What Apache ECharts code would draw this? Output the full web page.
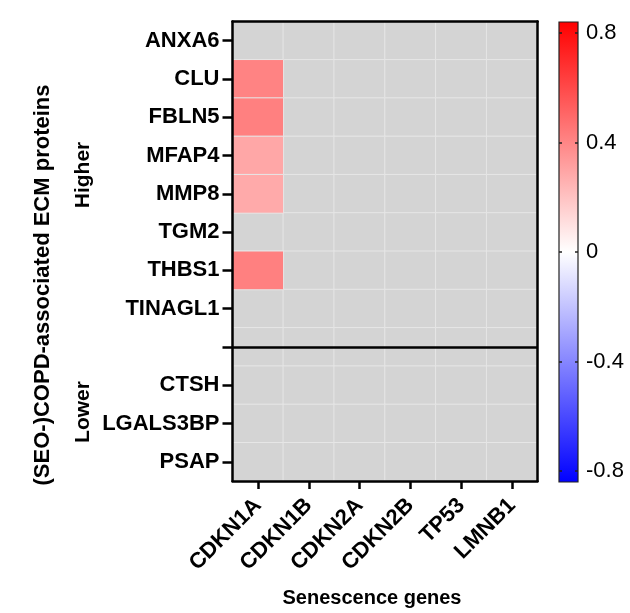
<!DOCTYPE html>
<html>
<head>
<meta charset="utf-8">
<script src="https://cdn.jsdelivr.net/npm/echarts@6/dist/echarts.min.js"></script>
<style>
  html, body { margin: 0; padding: 0; background: #fff; }
  #chart { width: 630px; height: 613px; }
</style>
</head>
<body>
<div id="chart"></div>
<script>
// senescence genes (columns)
const genes = ['CDKN1A', 'CDKN1B', 'CDKN2A', 'CDKN2B', 'TP53', 'LMNB1']
// ECM proteins (rows), empty row splits higher / lower groups
const proteins = ['ANXA6', 'CLU', 'FBLN5', 'MFAP4', 'MMP8', 'TGM2', 'THBS1', 'TINAGL1', '', 'CTSH', 'LGALS3BP', 'PSAP']
const gapRow = 8
// significant correlations only, the rest is grey
const sigProteins = ['CLU', 'FBLN5', 'MFAP4', 'MMP8', 'THBS1']
const sigGenes = ['CDKN1A', 'CDKN1A', 'CDKN1A', 'CDKN1A', 'CDKN1A']
const sigValues = [0.41, 0.42, 0.29, 0.28, 0.42]
// colour scale
const colorTicks = [-0.8, -0.4, 0, 0.4, 0.8]
const colorMin = -0.84
const colorMax = 0.84

const FONT = "'Liberation Sans', Arial, sans-serif"

// grey background cells
const greyCells = []
proteins.forEach((p, yi) => {
  genes.forEach((g, xi) => greyCells.push([xi, yi, 0]))
})

const sigCells = sigValues.map((v, i) => [
  genes.indexOf(sigGenes[i]),
  proteins.indexOf(sigProteins[i]),
  v
])

const chart = echarts.init(document.getElementById('chart'))

const frameAxis = (extra) => Object.assign({
  type: 'value',
  min: 0,
  max: 1,
  z: 5,
  axisLine: { show: true, lineStyle: { color: '#000', width: 2.5 } },
  axisTick: { show: false },
  axisLabel: { show: false },
  splitLine: { show: false }
}, extra)

chart.setOption({
  animation: false,
  grid: [
    { left: 232.5, top: 21.5, width: 305, height: 459.5 },
    { left: 559, top: 22, width: 19, height: 460 }
  ],
  xAxis: [
    {
      type: 'category',
      data: genes,
      gridIndex: 0,
      z: 5,
      axisLine: { show: true, lineStyle: { color: '#000', width: 2.5 } },
      axisTick: { show: true, alignWithLabel: true, interval: 0, length: 8, lineStyle: { color: '#000', width: 2.5 } },
      axisLabel: { interval: 0, rotate: 45, margin: 21, fontFamily: FONT, fontWeight: 'bold', fontSize: 22, color: '#000' },
      splitLine: { show: false }
    },
    frameAxis({ gridIndex: 0, position: 'top' }),
    { type: 'value', gridIndex: 1, min: 0, max: 1, show: false }
  ],
  yAxis: [
    {
      type: 'category',
      data: proteins,
      inverse: true,
      gridIndex: 0,
      z: 5,
      axisLine: { show: true, lineStyle: { color: '#000', width: 2.5 } },
      axisTick: { show: true, alignWithLabel: true, interval: 0, length: 10, lineStyle: { color: '#000', width: 2.5 } },
      axisLabel: { interval: 0, margin: 13, fontFamily: FONT, fontWeight: 'bold', fontSize: 22, color: '#000' },
      splitLine: { show: false }
    },
    frameAxis({ gridIndex: 0, position: 'right' }),
    {
      type: 'value', gridIndex: 1, min: colorMin, max: colorMax, position: 'left', z: 5,
      axisLine: { show: false },
      axisTick: { show: true, inside: true, length: 3, customValues: colorTicks, lineStyle: { color: '#222', width: 1.5 } },
      axisLabel: { show: false },
      splitLine: { show: false }
    },
    {
      type: 'value', gridIndex: 1, min: colorMin, max: colorMax, position: 'right', z: 5,
      axisLine: { show: false },
      axisTick: { show: true, inside: true, length: 3, customValues: colorTicks, lineStyle: { color: '#222', width: 1.5 } },
      axisLabel: { show: true, margin: 8, customValues: colorTicks, fontFamily: FONT, fontSize: 22, color: '#000' },
      splitLine: { show: false }
    }
  ],
  visualMap: {
    show: false,
    type: 'continuous',
    seriesIndex: 1,
    min: colorMin,
    max: colorMax,
    dimension: 2,
    inRange: { color: ['#0000ff', '#ffffff', '#ff0000'] }
  },
  series: [
    {
      type: 'heatmap',
      xAxisIndex: 0,
      yAxisIndex: 0,
      data: greyCells,
      silent: true,
      itemStyle: { color: '#d4d4d4', borderColor: '#e6e6e6', borderWidth: 1 },
      markLine: {
        silent: true,
        symbol: 'none',
        label: { show: false },
        lineStyle: { color: '#000', width: 2.5, type: 'solid' },
        data: [{ yAxis: gapRow }]
      }
    },
    {
      type: 'heatmap',
      xAxisIndex: 0,
      yAxisIndex: 0,
      data: sigCells,
      silent: true,
      itemStyle: { borderColor: '#e6e6e6', borderWidth: 1 }
    },
    {
      // colour bar
      type: 'line',
      xAxisIndex: 2,
      yAxisIndex: 2,
      data: [],
      silent: true,
      markArea: {
        silent: true,
        label: { show: false },
        itemStyle: {
          color: new echarts.graphic.LinearGradient(0, 0, 0, 1, [
            { offset: 0, color: '#ff0000' },
            { offset: 0.5, color: '#ffffff' },
            { offset: 1, color: '#0000ff' }
          ]),
          borderColor: '#222',
          borderWidth: 1.2,
          opacity: 1
        },
        data: [[{ xAxis: 0, yAxis: colorMin }, { xAxis: 1, yAxis: colorMax }]]
      }
    }
  ],
  graphic: [
    {
      type: 'text', x: 43, y: 285, rotation: Math.PI / 2,
      style: { text: '(SEO-)COPD-associated ECM proteins', font: 'bold 22px ' + FONT, fill: '#000', align: 'center', verticalAlign: 'middle' }
    },
    {
      type: 'text', x: 83, y: 175, rotation: Math.PI / 2,
      style: { text: 'Higher', font: 'bold 21px ' + FONT, fill: '#000', align: 'center', verticalAlign: 'middle' }
    },
    {
      type: 'text', x: 83, y: 412, rotation: Math.PI / 2,
      style: { text: 'Lower', font: 'bold 21px ' + FONT, fill: '#000', align: 'center', verticalAlign: 'middle' }
    },
    {
      type: 'text', x: 372, y: 598,
      style: { text: 'Senescence genes', font: 'bold 20px ' + FONT, fill: '#000', align: 'center', verticalAlign: 'middle' }
    }
  ]
})
</script>
</body>
</html>
